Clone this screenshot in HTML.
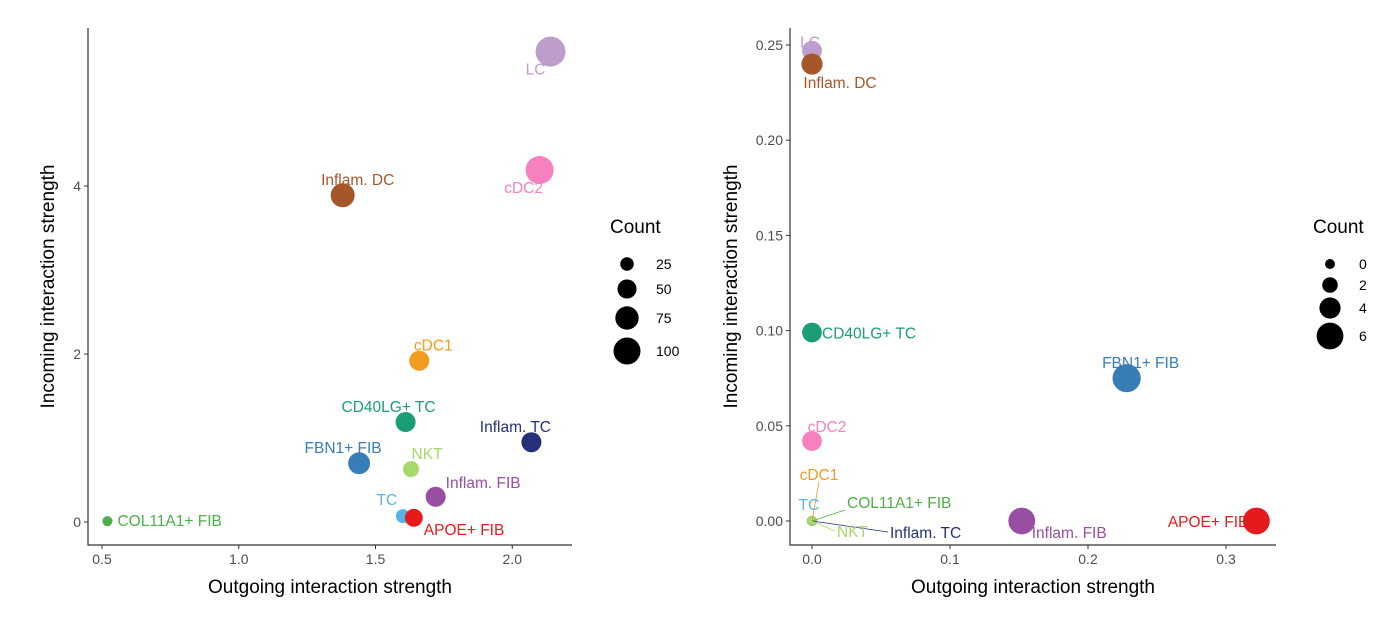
<!DOCTYPE html>
<html><head><meta charset="utf-8">
<style>
body{margin:0;background:#fff;font-family:"Liberation Sans",sans-serif;}
svg text{font-family:"Liberation Sans",sans-serif;}
</style></head>
<body>
<svg id="c" width="1396" height="626" xmlns="http://www.w3.org/2000/svg"></svg>
<script>
// Left panel data
const leftNames = ["LC","cDC2","Inflam. DC","cDC1","CD40LG+ TC","Inflam. TC","FBN1+ FIB","NKT","Inflam. FIB","TC","APOE+ FIB","COL11A1+ FIB"];
const leftOut = [2.14,2.10,1.38,1.66,1.61,2.07,1.44,1.63,1.72,1.60,1.64,0.52];
const leftIn = [5.6,4.19,3.89,1.92,1.19,0.95,0.70,0.63,0.30,0.07,0.05,0.01];
const leftCount = [123,108,79,55,55,55,66,35,55,27,44,14];
const leftXTicks = [0.5,1.0,1.5,2.0];
const leftYTicks = [0,2,4];
const leftLegend = [25,50,75,100];
// Right panel data
const rightNames = ["LC","Inflam. DC","CD40LG+ TC","FBN1+ FIB","cDC2","APOE+ FIB","Inflam. FIB","cDC1","TC","COL11A1+ FIB","Inflam. TC","NKT"];
const rightOut = [0,0,0,0.228,0,0.322,0.152,0,0,0,0,0];
const rightIn = [0.247,0.240,0.099,0.075,0.042,0,0,0,0,0,0,0];
const rightCount = [3.5,4,3.5,6.5,3.5,6,6,0,0,0,0,0];
const rightXTicks = [0,0.1,0.2,0.3];
const rightYTicks = [0,0.05,0.10,0.15,0.20,0.25];
const rightLegend = [0,2,4,6];

const colors = {"LC":"#BC9DCC","Inflam. DC":"#A6572A","cDC2":"#F781BF","cDC1":"#F39B1F","CD40LG+ TC":"#1B9E77","Inflam. TC":"#253178","FBN1+ FIB":"#377EB8","NKT":"#A6D96A","Inflam. FIB":"#984EA3","TC":"#56B4E9","APOE+ FIB":"#E41A1C","COL11A1+ FIB":"#4DAF4A"};
const leftLab = {"LC":[-15,23,"middle"],"cDC2":[-16,23,"middle"],"Inflam. DC":[15,-10,"middle"],"cDC1":[14,-10,"middle"],"CD40LG+ TC":[-17,-10,"middle"],"Inflam. TC":[-16,-10,"middle"],"FBN1+ FIB":[-16,-10,"middle"],"NKT":[16,-10,"middle"],"Inflam. FIB":[10,-9,"start"],"TC":[-16,-11,"middle"],"APOE+ FIB":[10,17,"start"],"COL11A1+ FIB":[10,5,"start"]};
const rightLab = {"LC":[-2,-3,"middle"],"Inflam. DC":[28,24,"middle"],"CD40LG+ TC":[10,6,"start"],"FBN1+ FIB":[14,-10,"middle"],"cDC2":[15,-9,"middle"],"APOE+ FIB":[-8,6,"end"],"Inflam. FIB":[10,17,"start"],"cDC1":[7,-41,"middle"],"TC":[-3,-11,"middle"],"COL11A1+ FIB":[35,-13,"start"],"NKT":[25,16,"start"],"Inflam. TC":[78,17,"start"]};

const svg=document.getElementById('c');
const NS="http://www.w3.org/2000/svg";
function mk(tag,attrs,parent){const e=document.createElementNS(NS,tag);for(const k in attrs)e.setAttribute(k,attrs[k]);(parent||svg).appendChild(e);return e;}

function panel(cfg){
  const g=mk('g',{});
  
  
  const sx=v=>cfg.x0+(v-cfg.xv0)*cfg.xs, sy=v=>cfg.y0-(v-cfg.yv0)*cfg.ys;
  const ax=mk('path',{d:`M${cfg.left},${cfg.top}V${cfg.bottom}H${cfg.right}`,stroke:'#333',fill:'none','stroke-width':1.2},g);
  
  
  cfg.xt.forEach(t=>{const x=sx(t);mk('line',{x1:x,x2:x,y1:cfg.bottom,y2:cfg.bottom+4,stroke:'#333'},g);
    const tx=mk('text',{x:x,y:cfg.bottom+19,'text-anchor':'middle','font-size':14,fill:'#4d4d4d'},g);tx.textContent=cfg.xf(t);
    
    });
  cfg.yt.forEach(t=>{const y=sy(t);mk('line',{x1:cfg.left-4,x2:cfg.left,y1:y,y2:y,stroke:'#333'},g);
    const tx=mk('text',{x:cfg.left-7,y:y+5,'text-anchor':'end','font-size':14,fill:'#4d4d4d'},g);tx.textContent=cfg.yf(t);
    
    });
  const xt=mk('text',{x:(cfg.left+cfg.right)/2,y:cfg.bottom+48,'text-anchor':'middle','font-size':19,fill:'#000'},g);xt.textContent='Outgoing interaction strength';
  
  
  const cy=(cfg.top+cfg.bottom)/2;
  const yt=mk('text',{x:cfg.left-cfg.ytOff,y:cy,'text-anchor':'middle','font-size':19,fill:'#000',transform:`rotate(-90 ${cfg.left-cfg.ytOff} ${cy})`},g);yt.textContent='Incoming interaction strength';
  
  
  cfg.names.forEach((n,i)=>{
    const x=sx(cfg.xs_[i]),y=sy(cfg.ys_[i]);
    const c=mk('circle',{cx:x,cy:y,r:cfg.rf(cfg.cnt[i]),fill:colors[n]},g);
    
    
  });
  cfg.names.forEach((n,i)=>{
    const x=sx(cfg.xs_[i]),y=sy(cfg.ys_[i]);const o=cfg.lab[n];
    if(cfg.leader && cfg.cnt[i]===0 && Math.abs(o[1])>12){mk('line',{x1:x,y1:y,x2:x+o[0]-(o[2]==='start'?2:0),y2:y+o[1]+(o[1]>0?-6:2),stroke:colors[n],'stroke-width':0.8},g);}
    const t=mk('text',{x:x+o[0],y:y+o[1],'text-anchor':o[2],'font-size':15.5,fill:colors[n]},g);t.textContent=n;
    
    
  });
  const lg=mk('g',{},g);
  
  
  const lt=mk('text',{x:cfg.lx-17,y:cfg.ly,'font-size':19,fill:'#000'},lg);lt.textContent='Count';
  cfg.leg.forEach((v,i)=>{const y=cfg.ly+31+i*cfg.lstep[i];
    mk('circle',{cx:cfg.lx,cy:y,r:cfg.rf(v),fill:'#000'},lg);
    const t=mk('text',{x:cfg.lx+29,y:y+5,'font-size':14,fill:'#000'},lg);t.textContent=v;});
}
panel({name:'left-panel',left:88,right:572,top:28,bottom:545,x0:102,xv0:0.5,xs:273.5,y0:522,yv0:0,ys:84,
  xt:leftXTicks,yt:leftYTicks,xf:t=>t.toFixed(1),yf:t=>String(t),ytOff:34,names:leftNames,xs_:leftOut,ys_:leftIn,cnt:leftCount,
  rf:c=>1.35*Math.sqrt(c),lab:leftLab,leader:false,leg:leftLegend,lx:627,ly:233,lstep:[0,25,27,29]});
panel({name:'right-panel',left:790,right:1276,top:28,bottom:545,x0:812,xv0:0,xs:1380,y0:521,yv0:0,ys:1904,
  xt:rightXTicks,yt:rightYTicks,xf:t=>t.toFixed(1),yf:t=>t.toFixed(2),ytOff:53,names:rightNames,xs_:rightOut,ys_:rightIn,cnt:rightCount,
  rf:c=>5+1.4*c,lab:rightLab,leader:true,leg:rightLegend,lx:1330,ly:233,lstep:[-7,21,22,24]});
</script>
</body></html>
